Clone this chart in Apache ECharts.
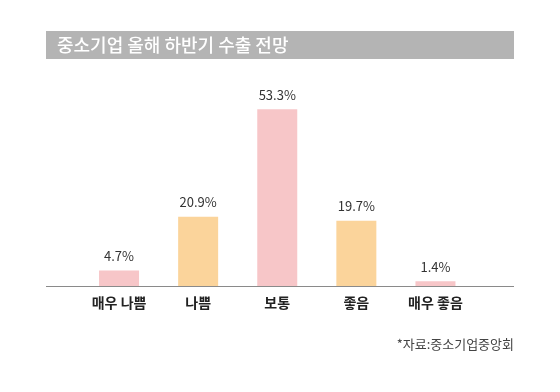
<!DOCTYPE html>
<html><head><meta charset="utf-8">
<script src="https://cdn.jsdelivr.net/npm/echarts@6/dist/echarts.min.js"></script>
<style>html,body{margin:0;padding:0;background:#fff}#c{width:560px;height:392px}</style>
</head><body><div id="c"></div>
<script>
const titleText = '중소기업 올해 하반기 수출 전망';
const sourceText = '*자료:중소기업중앙회';
const categories = ['매우 나쁨', '나쁨', '보통', '좋음', '매우 좋음'];
const values = [4.7, 20.9, 53.3, 19.7, 1.4];
const barColors = ['#F7C6C8', '#FBD49B', '#F7C6C8', '#FBD49B', '#F7C6C8'];
const FONT = '"Noto Sans CJK KR", "Noto Sans", sans-serif';

const chart = echarts.init(document.getElementById('c'), null, {renderer: 'canvas'});
chart.setOption({
  animation: false,
  backgroundColor: '#fff',
  grid: {left: 79.5, right: 85, top: 87, bottom: 106, containLabel: false},
  xAxis: {
    type: 'category', data: categories,
    axisLine: {show: false}, axisTick: {show: false},
    axisLabel: {color: '#222', fontSize: 14, fontWeight: 'bold', fontFamily: FONT, margin: 10}
  },
  yAxis: {type: 'value', min: 0, max: 60, show: false, splitLine: {show: false}},
  series: [{
    type: 'bar', barWidth: 40,
    data: values.map((v, i) => ({value: v, itemStyle: {color: barColors[i]}})),
    label: {show: true, position: 'top', distance: 8, color: '#333', fontSize: 13, fontFamily: FONT,
      formatter: p => p.value + '%'}
  }],
  graphic: [
    {type: 'rect', shape: {x: 46, y: 31, width: 468, height: 28}, style: {fill: '#B4B4B4'}, silent: true},
    {type: 'text', x: 57, y: 45, style: {text: titleText, fill: '#fff', fontSize: 18, fontWeight: 500, fontFamily: FONT, verticalAlign: 'middle', textAlign: 'left'}},
    {type: 'line', shape: {x1: 46, y1: 286.5, x2: 514, y2: 286.5}, style: {stroke: '#8a8a8a', lineWidth: 1}},
    {type: 'text', x: 514, y: 344, style: {text: sourceText, fill: '#444', fontSize: 13, fontFamily: FONT, verticalAlign: 'middle', textAlign: 'right'}}
  ]
});
</script></body></html>
